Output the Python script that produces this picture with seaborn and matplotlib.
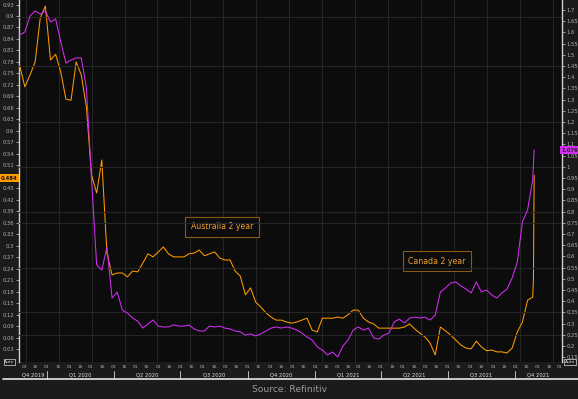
import numpy as np
import pandas as pd
import matplotlib
matplotlib.use('Agg')
import matplotlib.pyplot as plt
import matplotlib.dates as mdates
import matplotlib.transforms as mtransforms
from matplotlib.lines import Line2D
import seaborn as sns

## data: weekly closes, plus the last two sessions
week_dates = pd.date_range('2019-11-25', periods=101, freq='7D')
late_dates = pd.to_datetime(['2021-10-26', '2021-10-27'])

aus_2y = [0.77, 0.715, 0.746, 0.78, 0.895, 0.926, 0.785, 0.80, 0.754, 0.683,
          0.68, 0.78, 0.746, 0.662, 0.485, 0.438, 0.524, 0.281, 0.224, 0.229,
          0.229, 0.219, 0.234, 0.232, 0.255, 0.279, 0.271, 0.284, 0.297, 0.279,
          0.271, 0.271, 0.271, 0.279, 0.281, 0.289, 0.274, 0.279, 0.284, 0.268,
          0.263, 0.263, 0.234, 0.221, 0.172, 0.19, 0.153, 0.140, 0.125, 0.114,
          0.106, 0.106, 0.101, 0.098, 0.101, 0.106, 0.111, 0.08, 0.075, 0.111,
          0.111, 0.111, 0.114, 0.111, 0.12, 0.132, 0.132, 0.111, 0.101, 0.096,
          0.085, 0.085, 0.085, 0.085, 0.085, 0.088, 0.096, 0.083, 0.072, 0.062,
          0.046, 0.015, 0.088, 0.078, 0.067, 0.054, 0.041, 0.033, 0.031, 0.051,
          0.036, 0.026, 0.028, 0.023, 0.023, 0.020, 0.033, 0.075, 0.101, 0.158,
          0.166]
aus_late = [0.21, 0.484]

can_2y = [1.588, 1.602, 1.673, 1.696, 1.682, 1.696, 1.646, 1.66, 1.557, 1.463,
          1.477, 1.486, 1.486, 1.352, 0.941, 0.562, 0.539, 0.642, 0.414, 0.441,
          0.361, 0.347, 0.325, 0.311, 0.280, 0.298, 0.316, 0.289, 0.285, 0.285,
          0.294, 0.289, 0.289, 0.294, 0.276, 0.267, 0.267, 0.289, 0.285, 0.289,
          0.280, 0.276, 0.267, 0.263, 0.249, 0.254, 0.245, 0.254, 0.267, 0.280,
          0.285, 0.280, 0.285, 0.280, 0.271, 0.258, 0.240, 0.227, 0.196, 0.182,
          0.160, 0.173, 0.151, 0.20, 0.227, 0.271, 0.285, 0.271, 0.280, 0.236,
          0.231, 0.249, 0.258, 0.307, 0.320, 0.303, 0.325, 0.329, 0.325, 0.329,
          0.316, 0.338, 0.441, 0.459, 0.481, 0.486, 0.468, 0.454, 0.437, 0.486,
          0.441, 0.450, 0.428, 0.414, 0.437, 0.454, 0.504, 0.575, 0.754, 0.807,
          0.941]
can_late = [1.008, 1.076]

quarters = ['Q4 2019', 'Q1 2020', 'Q2 2020', 'Q3 2020', 'Q4 2020',
            'Q1 2021', 'Q2 2021', 'Q3 2021', 'Q4 2021']
quarter_starts = pd.to_datetime(['2019-10-01', '2020-01-01', '2020-04-01', '2020-07-01', '2020-10-01',
                                 '2021-01-01', '2021-04-01', '2021-07-01', '2021-10-01', '2022-01-01'])

df = pd.DataFrame({
    'date': list(week_dates) + list(late_dates),
    'aus': aus_2y + aus_late,
    'can': can_2y + can_late,
})

ORANGE = '#ff9a00'
MAGENTA = '#d22ef2'
TXT = '#b0b0b0'

sns.set_theme(style='dark')
plt.rcParams['font.family'] = ['DejaVu Sans']

W, H = 578, 399
fig = plt.figure(figsize=(W / 100, H / 100), dpi=100, facecolor='#1b1b1b')
ax = fig.add_axes([19 / W, (H - 362) / H, 543 / W, 362 / H])
ax.set_facecolor('#0c0c0c')
ax2 = ax.twinx()

x0, x1 = pd.Timestamp('2019-11-24'), pd.Timestamp('2021-12-04')

# faint grid
for v in [1.67, 1.45, 1.2, 1.0, 0.8, 0.75, 0.55, 0.35, 0.25]:
    ax2.axhline(v, color='#262626', lw=0.8, zorder=0)
for d in pd.date_range('2019-12-03', x1, freq='45D'):
    ax.axvline(d, color='#242424', lw=0.8, zorder=0)

sns.lineplot(data=df, x='date', y='aus', ax=ax, color=ORANGE, lw=0.75, zorder=3)
sns.lineplot(data=df, x='date', y='can', ax=ax2, color=MAGENTA, lw=0.75, zorder=3)

ax.set_xlim(x0, x1)
ax.set_ylim(-0.0034, 0.9418)
ax2.set_ylim(0.1286, 1.7446)
for a in (ax, ax2):
    a.set_xlabel('')
    a.set_ylabel('')
    a.grid(False)
    for s in ['top', 'bottom']:
        a.spines[s].set_visible(False)
ax.spines['left'].set_color('#cfcfcf')
ax.spines['left'].set_linewidth(1.0)
ax2.spines['right'].set_color('#cfcfcf')
ax2.spines['right'].set_linewidth(1.0)
ax2.spines['left'].set_visible(False)
ax.spines['right'].set_visible(False)

left_ticks = [round(v, 2) for v in np.arange(0.03, 0.94, 0.03) if abs(v - 0.48) > 0.001]
ax.set_yticks(left_ticks)
ax.set_yticklabels(['{:g}'.format(v) for v in left_ticks])
right_ticks = [round(v, 2) for v in np.arange(0.15, 1.71, 0.05)]
ax2.set_yticks(right_ticks)
ax2.set_yticklabels(['{:g}'.format(v) for v in right_ticks])
ax.tick_params(axis='y', labelsize=3.8, colors=TXT, length=2, width=0.6, pad=1.5)
ax2.tick_params(axis='y', labelsize=3.8, colors=TXT, length=2, width=0.6, pad=1.5)

ax.xaxis.set_major_locator(mdates.DayLocator(bymonthday=[1, 16]))
ax.xaxis.set_major_formatter(mdates.DateFormatter('%d'))
ax.tick_params(axis='x', labelsize=3.2, colors=TXT, length=1.5, width=0.5, pad=1)

# quarter labels and separators below the day ticks
trans = mtransforms.blended_transform_factory(ax.transData, ax.transAxes)
for i, q in enumerate(quarters):
    a_, b_ = max(quarter_starts[i], x0), min(quarter_starts[i + 1], x1)
    mid = a_ + (b_ - a_) / 2
    ax.text(mid, -0.036, q, transform=trans, ha='center', va='center',
            fontsize=3.8, color='#e0e0e0', clip_on=False)
    if x0 < quarter_starts[i] < x1:
        ax.plot([quarter_starts[i]] * 2, [-0.024, -0.047], transform=trans,
                color='#d8d8d8', lw=0.6, clip_on=False)

fig.add_artist(Line2D([3 / W, 1], [1 - 379 / H] * 2, color='#e6e6e6', lw=1.2))

# series annotations
box = dict(boxstyle='square,pad=0.7', facecolor='#0c0c0c', edgecolor='#8a5a12', lw=0.8)
ax.text(0.374, 0.373, 'Australia 2 year', transform=ax.transAxes, ha='center', va='center',
        fontsize=5.6, color='#f0a030', bbox=box, zorder=5)
ax.text(0.770, 0.279, 'Canada 2 year', transform=ax.transAxes, ha='center', va='center',
        fontsize=5.6, color='#f0a030', bbox=box, zorder=5)

# last value tags
fig.text(9 / W, 1 - 178 / H, '{:.3f}'.format(aus_late[-1]), ha='center', va='center',
         fontsize=3.8, color='#111111', fontweight='bold',
         bbox=dict(boxstyle='square,pad=0.35', facecolor=ORANGE, edgecolor='none'))
fig.text(570 / W, 1 - 150 / H, '{:.3f}'.format(can_late[-1]), ha='center', va='center',
         fontsize=3.8, color='#222222', fontweight='bold',
         bbox=dict(boxstyle='square,pad=0.35', facecolor=MAGENTA, edgecolor='none'))

# auto-scale markers in the corners
for xp in (9.5 / W, 570 / W):
    fig.text(xp, 1 - 362 / H, 'Auto', ha='center', va='center', fontsize=3.2, color='#dddddd',
             bbox=dict(boxstyle='square,pad=0.2', facecolor='#1b1b1b', edgecolor='#dddddd', lw=0.5))

fig.text(0.5, 1 - 390 / H, 'Source: Refinitiv', ha='center', va='center',
         fontsize=6.6, color='#9a9a9a')

fig.savefig('out.png', dpi=100, facecolor=fig.get_facecolor())
